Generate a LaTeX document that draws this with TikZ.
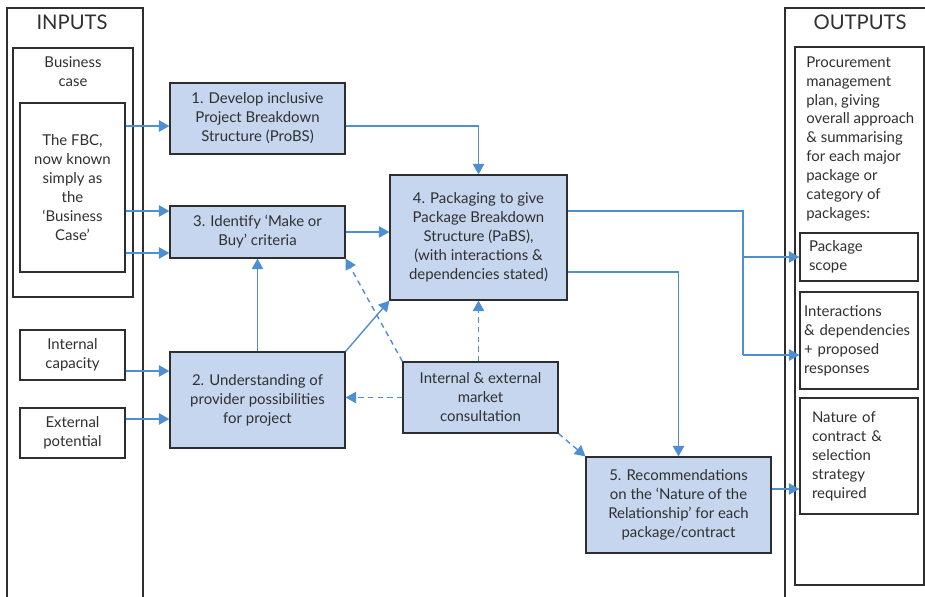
\documentclass[tikz,border=0pt]{standalone}
\usepackage{fontspec}
\setmainfont{Lato}
\usepackage{tikz}
\usetikzlibrary{arrows.meta,calc,positioning}
\definecolor{bluefill}{HTML}{C6D6EE}
\definecolor{bluearrow}{HTML}{4D8FD0}
\definecolor{darkline}{HTML}{2E2E2E}
\definecolor{textgray}{HTML}{303030}
\tikzset{
  every node/.append style={font=\fontsize{8.5}{10.8}\selectfont, text=textgray},
  stepbox/.style={draw=darkline, line width=0.7pt, fill=bluefill, align=center, inner sep=0pt},
  inbox/.style={draw=darkline, line width=0.7pt, fill=white, align=center, inner sep=0pt},
  outbox/.style={draw=darkline, line width=0.7pt, fill=white, align=left, inner sep=0pt},
  panel/.style={draw=darkline, line width=0.7pt},
  heading/.style={font=\fontsize{11.5}{13}\selectfont},
  flow/.style={->, bluearrow, line width=0.8pt},
  consult/.style={flow, dash pattern=on 3pt off 2.5pt},
}

\begin{document}
\begin{tikzpicture}[x=0.02cm,y=-0.02cm,>={Triangle[length=6pt,width=6.5pt]}]
  \useasboundingbox (0,0) rectangle (925,596);
  \draw[panel] (7,610) |- (143,8) -- (143,610);
  \draw[panel] (785,610) |- (940,8);
  \node[heading] (inputs) at (72,22) {INPUTS};
  \node[heading] (outputs) at (860,22) {OUTPUTS};

  % inputs
  \node[inbox, line width=1.3pt, minimum width=2.4cm, minimum height=4.98cm] (bcase) at (73,172.5) {};
  \node[align=center] (bclabel) at (73,72) {Business\\case};
  \node[inbox, minimum width=2.1cm, minimum height=3.38cm] (fbc) at (72.5,187.5) {The FBC,\\now known\\simply as\\the\\`Business\\Case'};
  \node[inbox, minimum width=2.1cm, minimum height=1cm] (intcap) at (72.5,355) {Internal\\capacity};
  \node[inbox, minimum width=2.1cm, minimum height=1cm] (extpot) at (72.5,433) {External\\potential};

  % steps
  \node[stepbox, minimum width=3.5cm, minimum height=1.42cm] (probs) at (257.5,118.5) {1. Develop inclusive\\Project Breakdown\\Structure (ProBS)};
  \node[stepbox, minimum width=3.5cm, minimum height=1.04cm] (makebuy) at (257.5,232) {3. Identify `Make or\\Buy' criteria};
  \node[stepbox, minimum width=3.5cm, minimum height=1.92cm] (provider) at (257.5,400) {2. Understanding of\\provider possibilities\\for project};
  \node[stepbox, minimum width=3.54cm, minimum height=2.5cm] (pabs) at (478.5,237.5) {4. Packaging to give\\Package Breakdown\\Structure (PaBS),\\(with interactions \&\\dependencies stated)};
  \node[stepbox, minimum width=3.1cm, minimum height=1.42cm] (market) at (480.5,397.5) {Internal \& external\\market\\consultation};
  \node[stepbox, minimum width=3.7cm, minimum height=1.92cm] (relation) at (678.5,505) {5. Recommendations\\on the `Nature of the\\Relationship' for each\\package/contract};

  % outputs
  \node[outbox, minimum width=2.58cm, minimum height=10.76cm] (plan) at (859.5,316) {};
  \node[align=left, anchor=north west, inner sep=0pt] (plantext) at (806,56) {Procurement\\management\\plan, giving\\overall approach\\\& summarising\\for each major\\package or\\category of\\packages:};
  \node[outbox, minimum width=2.36cm, minimum height=0.96cm, text width=2cm] (scope) at (859,257) {Package\\scope};
  \node[outbox, minimum width=2.36cm, minimum height=1.94cm, text width=2.2cm] (interact) at (859,340.5) {Interactions\\\& dependencies\\+ proposed\\responses};
  \node[outbox, minimum width=2.36cm, minimum height=2.32cm, text width=1.88cm] (nature) at (859,456) {Nature of\\contract \&\\selection\\strategy\\required};

  \coordinate (rowa) at (0,126);
  \coordinate (rowb) at (0,211);
  \coordinate (rowc) at (0,253);
  \coordinate (rowd) at (0,371);
  \coordinate (rowe) at (0,419);
  \coordinate (rowf) at (0,272);
  \coordinate (rowg) at (0,489);
  \coordinate (bus) at (743,211);
  \coordinate (busend) at (743,355);

  \draw[flow] (fbc.east |- rowa) -- (probs.west |- rowa);
  \draw[flow] (fbc.east |- rowb) -- (makebuy.west |- rowb);
  \draw[flow] (fbc.east |- rowc) -- (makebuy.west |- rowc);
  \draw[flow] (intcap.east |- rowd) -- (provider.west |- rowd);
  \draw[flow] (extpot.east |- rowe) -- (provider.west |- rowe);
  \draw[flow] (provider.north) -- (makebuy.south);
  \draw[flow] (provider.north east) -- (pabs.south west);
  \draw[flow] (probs.east |- rowa) -| (pabs.north);
  \draw[flow] (makebuy.east) -- (pabs.west |- makebuy.east);
  \draw[consult] (pabs.south |- market.north) -- (pabs.south);
  \draw[consult] (market.north west) -- (makebuy.south east);
  \draw[consult] (market.west) -- (provider.east |- market.west);
  \draw[consult] (market.south east) -- (relation.north west);
  \draw[bluearrow, line width=0.8pt] (pabs.east |- bus) -- (bus) -- (busend);
  \draw[flow] (bus |- scope.west) -- (scope.west);
  \draw[flow] (busend) -- (interact.west |- busend);
  \draw[flow] (pabs.east |- rowf) -| (relation.north);
  \draw[flow] (relation.east |- rowg) -- (nature.west |- rowg);
\end{tikzpicture}
\end{document}
